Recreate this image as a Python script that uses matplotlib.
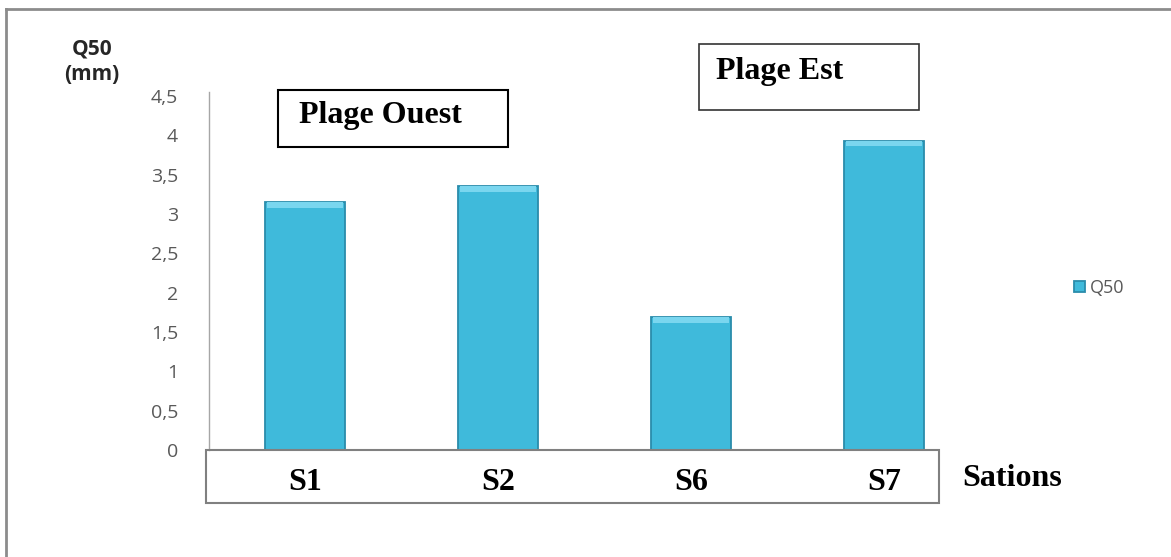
import matplotlib
matplotlib.use("Agg")
import matplotlib.pyplot as plt
from matplotlib.patches import Rectangle
from matplotlib.lines import Line2D

# data
stations = ["S1", "S2", "S6", "S7"]
q50 = [3.15, 3.35, 1.69, 3.93]
yticks = [0, 0.5, 1, 1.5, 2, 2.5, 3, 3.5, 4, 4.5]
ytick_labels = ["0", "0,5", "1", "1,5", "2", "2,5", "3", "3,5", "4", "4,5"]

W, H = 1171, 557
fig = plt.figure(figsize=(W / 100, H / 100), dpi=100)

def fx(px):
    return px / W

def fy(py):
    return 1 - py / H

ax = fig.add_axes([fx(208.5), fy(450), fx(980.5) - fx(208.5), fy(92) - fy(450)])

x = range(len(stations))
bars = ax.bar(x, q50, width=0.41, color="#3FBADB", edgecolor="#2A8CAB",
              linewidth=1.3, label="Q50", zorder=3)
# lighter bevel on top of each bar
for b in bars:
    ax.bar(b.get_x() + b.get_width() / 2, 0.07, bottom=b.get_height() - 0.07,
           width=b.get_width() * 0.97, color="#7AD6EF", linewidth=0, zorder=4)

ax.set_xlim(-0.5, len(stations) - 0.5)
ax.set_ylim(0, 4.55)
ax.set_yticks(yticks)
ax.set_yticklabels(ytick_labels)
ax.set_xticks(list(x))
ax.set_xticklabels(stations, fontfamily="Liberation Serif", fontweight="bold",
                   fontsize=23, color="black")
ax.tick_params(axis="x", length=0, pad=13)
ax.tick_params(axis="y", length=0, pad=22, labelsize=14, labelcolor="#595959")
for lab in ax.get_yticklabels():
    lab.set_fontfamily("Open Sans")

for s in ["top", "right", "bottom"]:
    ax.spines[s].set_visible(False)
ax.spines["left"].set_color("#A6A6A6")
ax.spines["left"].set_linewidth(1.0)

# category box under the bars
ax.add_patch(Rectangle((-0.5 - 2.5 / 193, 0), (939 - 206) / 193, -53 / 358 * 4.55,
                       transform=ax.transData, fill=False, edgecolor="#808080",
                       linewidth=1.5, clip_on=False, zorder=5))

fig.text(fx(1012), fy(478), "Sations", fontfamily="Liberation Serif",
         fontweight="bold", fontsize=23, ha="center", va="center")
fig.text(fx(92), fy(62), "Q50\n(mm)", fontfamily="Open Sans", fontweight="bold",
         fontsize=15, ha="center", va="center", color="#262626", linespacing=1.3)

leg = ax.legend(loc="center left", bbox_to_anchor=(fx(1058), fy(288)),
                bbox_transform=fig.transFigure, frameon=False, handlelength=0.6,
                handleheight=0.6, handletextpad=0.25,
                prop={"family": "Open Sans", "size": 13})
for t in leg.get_texts():
    t.set_color("#595959")

# text boxes
fig.add_artist(Rectangle((fx(278), fy(147)), fx(508) - fx(278), fy(90) - fy(147),
                         transform=fig.transFigure, fill=False, edgecolor="black",
                         linewidth=1.5))
fig.text(fx(299), fy(116), "Plage Ouest", fontfamily="Liberation Serif",
         fontweight="bold", fontsize=23, ha="left", va="center")
fig.add_artist(Rectangle((fx(699), fy(110)), fx(919) - fx(699), fy(44) - fy(110),
                         transform=fig.transFigure, fill=False, edgecolor="#333333",
                         linewidth=1.2))
fig.text(fx(716), fy(72), "Plage Est", fontfamily="Liberation Serif",
         fontweight="bold", fontsize=23, ha="left", va="center")

# outer chart border (top and left visible)
fig.add_artist(Line2D([fx(6), 1], [fy(9), fy(9)], color="#8C8C8C", linewidth=2,
                      transform=fig.transFigure))
fig.add_artist(Line2D([fx(6), fx(6)], [fy(9), 0], color="#8C8C8C", linewidth=2,
                      transform=fig.transFigure))

fig.savefig("out.png", dpi=100)
